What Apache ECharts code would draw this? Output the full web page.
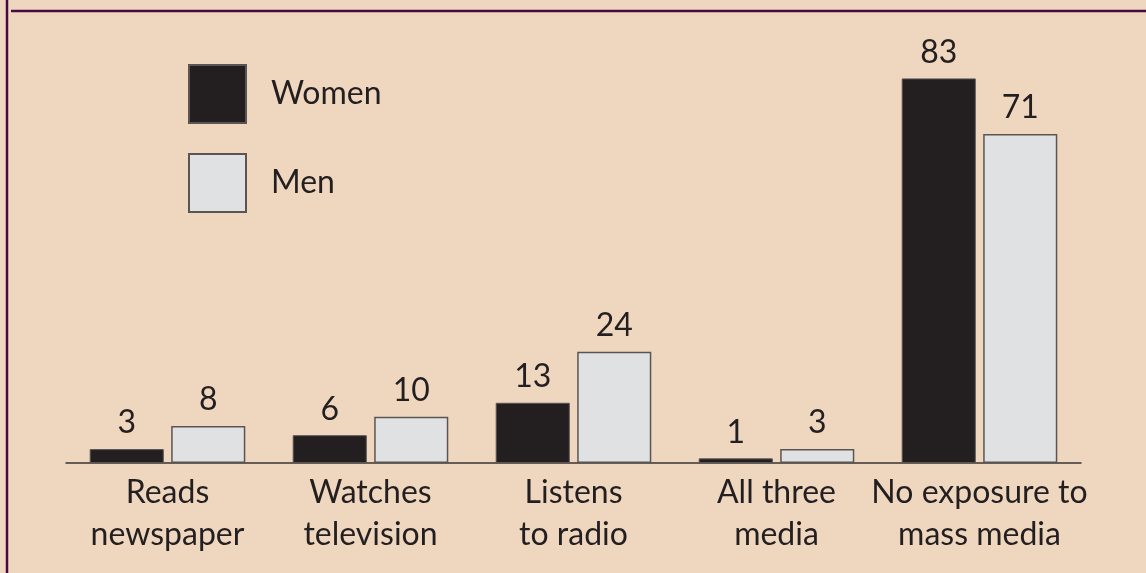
<!DOCTYPE html>
<html><head><meta charset="utf-8">
<script src="https://cdn.jsdelivr.net/npm/echarts@6/dist/echarts.min.js"></script>
<style>html,body{margin:0;padding:0;background:#efd7bf;}#c{width:1146px;height:573px;}</style>
</head><body><div id="c"></div>
<script>
const categories = ['Reads\nnewspaper', 'Watches\ntelevision', 'Listens\nto radio', 'All three\nmedia', 'No exposure to\nmass media'];
const women = [3, 6, 13, 1, 83];
const men = [8, 10, 24, 3, 71];
const FONT = 'Lato, "Open Sans", sans-serif';
const TXT = '#231f20';
const chart = echarts.init(document.getElementById('c'));
chart.setOption({
  backgroundColor: '#efd7bf',
  animation: false,
  textStyle: {fontFamily: FONT, color: TXT},
  grid: {left: 66, right: 65, top: 46, bottom: 110, containLabel: false},
  legend: {
    orient: 'vertical', left: 188, top: 64, padding: 0, itemWidth: 57, itemHeight: 58, itemGap: 29,
    icon: 'rect',
    textStyle: {fontSize: 32, color: TXT, fontFamily: FONT, padding: [0, 0, 0, 20]},
    data: ['Women', 'Men']
  },
  xAxis: {
    type: 'category', data: categories,
    axisLine: {lineStyle: {color: '#3a3533', width: 1.5}},
    axisTick: {show: false},
    axisLabel: {fontSize: 32, lineHeight: 42, color: TXT, fontFamily: FONT, margin: 9, interval: 0}
  },
  yAxis: {type: 'value', min: 0, max: 90, show: false, splitLine: {show: false}},
  series: [
    {name: 'Women', type: 'bar', data: women, barWidth: '36.5%', barGap: '10%',
     itemStyle: {color: '#231f20', borderColor: '#5a5553', borderWidth: 1},
     label: {show: true, position: 'top', distance: 10, fontSize: 32, color: TXT, fontFamily: FONT}},
    {name: 'Men', type: 'bar', data: men, barWidth: '36.5%',
     itemStyle: {color: '#e0e1e3', borderColor: '#5a5553', borderWidth: 1.5},
     label: {show: true, position: 'top', distance: 10, fontSize: 32, color: TXT, fontFamily: FONT}}
  ],
  graphic: [
    {type: 'line', shape: {x1: 7, y1: 0, x2: 7, y2: 573}, style: {stroke: '#4a0842', lineWidth: 2.5}},
    {type: 'line', shape: {x1: 11, y1: 11, x2: 1146, y2: 11}, style: {stroke: '#4a0842', lineWidth: 2.5}}
  ]
});
</script></body></html>
